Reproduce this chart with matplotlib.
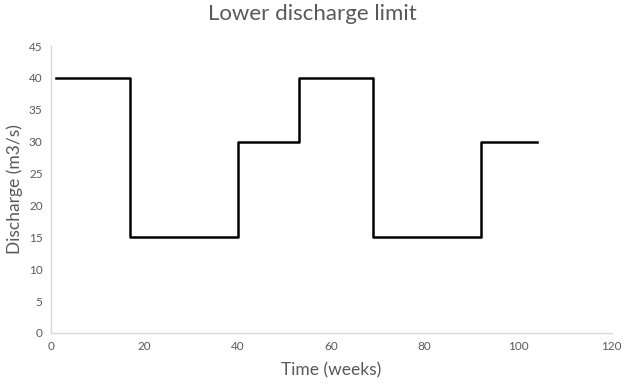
import matplotlib
matplotlib.use("Agg")
import matplotlib.pyplot as plt

# step change times (weeks) and discharge limit (m3/s)
weeks = [1, 17, 40, 53, 69, 92, 104]
discharge = [40, 15, 30, 40, 15, 30, 30]

plt.rcParams['font.family'] = ['Lato', 'DejaVu Sans']

fig = plt.figure(figsize=(6.25, 3.84), dpi=100)
ax = fig.add_axes([0.0816, 0.133, 0.897, 0.747])

ax.plot(weeks, discharge, drawstyle='steps-post', color='black', linewidth=1.8)

ax.set_xlim(0, 120)
ax.set_ylim(0, 45)
ax.set_xticks(range(0, 121, 20))
ax.set_yticks(range(0, 46, 5))
ax.tick_params(length=0, labelsize=8.5, colors='#595959', pad=6)

for s in ['top', 'right']:
    ax.spines[s].set_visible(False)
for s in ['left', 'bottom']:
    ax.spines[s].set_color('#d9d9d9')
    ax.spines[s].set_linewidth(1)

ax.set_xlabel("Time (weeks)", fontsize=12.5, color='#595959', labelpad=7)
ax.set_ylabel("Discharge (m3/s)", fontsize=12.5, color='#595959', labelpad=4)
fig.suptitle("Lower discharge limit", fontsize=16, color='#595959', y=0.99)

fig.savefig("out.png", dpi=100)
